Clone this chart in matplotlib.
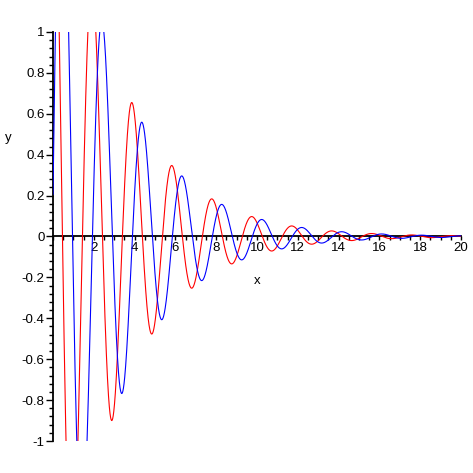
"""
Damped oscillations, Maple-style axes
"""
import numpy as np
import matplotlib
matplotlib.use("Agg")
import matplotlib.pyplot as plt
from matplotlib.ticker import MultipleLocator

# values (peaks / decay / period)
X_RANGE = (0.0, 20.0)
AMPLITUDE = 2.3      # envelope at x = 0
DECAY = 0.324        # envelope ~ exp(-DECAY * x)
OMEGA = 3.206        # period ~ 1.96
PHASE = 0.09
SERIES = ["red", "blue"]     # red = cos part, blue = sin part

X_TICKS = [2, 4, 6, 8, 10, 12, 14, 16, 18, 20]
Y_TICKS = [-1, -0.8, -0.6, -0.4, -0.2, 0, 0.2, 0.4, 0.6, 0.8, 1]
Y_TICK_LABELS = ["-1", "-0.8", "-0.6", "-0.4", "-0.2", "0",
                 "0.2", "0.4", "0.6", "0.8", "1"]

FS = 9.5


def main():
    plt.rcParams['font.family'] = ['Liberation Sans', 'DejaVu Sans']

    fig = plt.figure(figsize=(4.73, 4.73), dpi=100)
    ax = fig.add_axes([53 / 473, 32 / 473, 408 / 473, 409 / 473])

    x = np.linspace(X_RANGE[0], X_RANGE[1], 4000)
    env = AMPLITUDE * np.exp(-DECAY * x)
    curves = {
        "red": env * np.cos(OMEGA * x + PHASE),
        "blue": env * np.sin(OMEGA * x + PHASE),
    }
    for name in SERIES:
        ax.plot(x, curves[name], color=name, lw=0.8)

    ax.set_xlim(*X_RANGE)
    ax.set_ylim(-1, 1)

    # Maple 风格的坐标轴：穿过原点
    ax.spines['left'].set_position(('data', 0))
    ax.spines['bottom'].set_position(('data', 0))
    ax.spines['top'].set_visible(False)
    ax.spines['right'].set_visible(False)
    for s in ('left', 'bottom'):
        ax.spines[s].set_linewidth(1.3)
        ax.spines[s].set_zorder(1)

    ax.set_xticks(X_TICKS)
    ax.set_xticklabels([str(t) for t in X_TICKS])
    ax.set_yticks(Y_TICKS)
    ax.set_yticklabels(Y_TICK_LABELS)
    ax.xaxis.set_minor_locator(MultipleLocator(0.5))
    ax.yaxis.set_minor_locator(MultipleLocator(0.04))
    ax.tick_params(axis='x', which='both', direction='out', length=3,
                   width=1, pad=1, labelsize=FS)
    ax.tick_params(axis='y', which='major', direction='out', length=5,
                   width=1, pad=1, labelsize=FS)
    ax.tick_params(axis='y', which='minor', direction='out', length=3, width=1)

    ax.set_xlabel('x', fontsize=FS)
    ax.xaxis.set_label_coords(0.5, 0.405)
    ax.set_ylabel('y', fontsize=FS, rotation=0)
    ax.yaxis.set_label_coords(-0.11, 0.725)

    fig.savefig('out.png', dpi=100)
    plt.close(fig)


if __name__ == "__main__":
    main()
